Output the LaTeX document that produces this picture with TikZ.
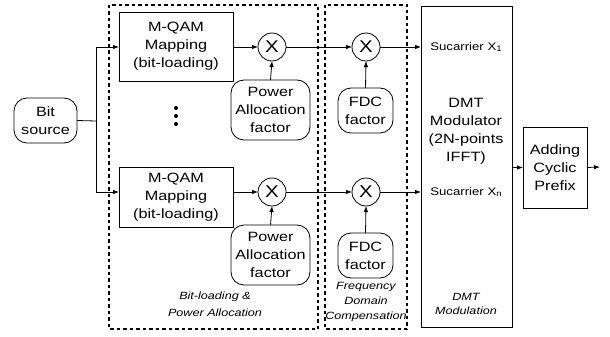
\documentclass[tikz,border=0pt]{standalone}
\usepackage{fontspec}
\setmainfont[FakeStretch=1.2]{Liberation Sans}
\usetikzlibrary{arrows.meta}
\tikzset{
  every node/.style={inner sep=0pt, outer sep=0pt},
  blk/.style={draw, line width=0.8pt, align=center, font=\fontsize{13.5}{18}\selectfont},
  rblk/.style={blk, rounded corners=13pt},
  mult/.style={draw, circle, line width=0.8pt, minimum size=28pt, font=\fontsize{17}{17}\selectfont},
  conn/.style={line width=0.8pt},
  arr/.style={conn, -{Latex[length=6pt,width=4.5pt]}},
  dbox/.style={line width=2pt, dash pattern=on 3.5pt off 3pt},
  lbl/.style={align=center, font=\fontsize{10.5}{16}\selectfont\itshape},
  sub/.style={font=\fontsize{11}{13}\selectfont}
}
\newcommand{\smallidx}[1]{\raisebox{-1.2pt}{\fontsize{8}{8}\selectfont #1}}
\begin{document}
\begin{tikzpicture}[x=1pt,y=-1pt]
\useasboundingbox (0,0) rectangle (610,337);
% dashed groups
\draw[dbox] (109,5) rectangle (318,329);
\draw[dbox] (325,5) rectangle (407,329);
% nodes
\node[rblk, minimum width=63pt, minimum height=45pt] (bit) at (45.5,120.5) {Bit\\source};
\node[blk, minimum width=114pt, minimum height=69pt] (map1) at (176,46.5) {M-QAM\\Mapping\\(bit-loading)};
\node[blk, minimum width=114pt, minimum height=60pt] (map2) at (176,197) {M-QAM\\Mapping\\(bit-loading)};
\node[mult] (m1) at (272,47) {X};
\node[mult] (m2) at (272,192) {X};
\node[mult] (f1) at (366,47) {X};
\node[mult] (f2) at (366,192) {X};
\node[rblk, minimum width=79pt, minimum height=60pt] (pa1) at (270.5,110) {Power\\Allocation\\factor};
\node[rblk, minimum width=79pt, minimum height=60pt] (pa2) at (270.5,255) {Power\\Allocation\\factor};
\node[rblk, minimum width=55pt, minimum height=45pt] (fdc1) at (365.5,110.5) {FDC\\factor};
\node[rblk, minimum width=55pt, minimum height=45pt] (fdc2) at (365.5,255.5) {FDC\\factor};
\node[draw, line width=0.8pt, minimum width=91pt, minimum height=321pt] (dmt) at (466.5,166.5) {};
\node[blk, minimum width=64pt, minimum height=81pt] (acp) at (555,167.5) {Adding\\Cyclic\\Prefix};
% texts in DMT
\node[sub] (s1) at (466,47) {Sucarrier X\smallidx{1}};
\node[sub] (sn) at (466,192) {Sucarrier X\smallidx{n}};
\node[align=center, font=\fontsize{13.5}{18}\selectfont] (dmtt) at (466,131) {DMT\\Modulator\\(2N-points\\IFFT)};
\node[lbl, font=\fontsize{10.5}{14}\selectfont\itshape] (dmtl) at (466,304) {DMT\\Modulation};
\node[lbl, font=\fontsize{10.5}{17}\selectfont\itshape] (bpl) at (215,304) {Bit-loading \&\\Power Allocation};
\node[lbl, font=\fontsize{10.5}{15}\selectfont\itshape] (fdcl) at (366,302) {Frequency\\Domain\\Compensation};
% dots
\fill (176,108) circle (2pt);
\fill (176,116) circle (2pt);
\fill (176,124) circle (2pt);
% connectors
\coordinate (sp) at (96,121);
\coordinate (spt) at (96,47);
\coordinate (spb) at (96,192);
\coordinate (out) at (600,167);
\draw[conn] (bit.east) -- (sp);
\draw[conn] (spt) -- (spb);
\draw[arr] (spt) -- (map1.west |- spt);
\draw[arr] (spb) -- (map2.west |- spb);
\draw[arr] (map1.east |- m1) -- (m1.west);
\draw[arr] (map2.east |- m2) -- (m2.west);
\draw[arr] (pa1.north) -- (m1.south);
\draw[arr] (pa2.north) -- (m2.south);
\draw[arr] (m1.east) -- (f1.west);
\draw[arr] (m2.east) -- (f2.west);
\draw[arr] (fdc1.north) -- (f1.south);
\draw[arr] (fdc2.north) -- (f2.south);
\draw[arr] (f1.east) -- (dmt.west |- f1);
\draw[arr] (f2.east) -- (dmt.west |- f2);
\draw[arr] (dmt.east |- acp.west) -- (acp.west);
\draw[arr] (acp.east) -- (out);
\end{tikzpicture}
\end{document}
